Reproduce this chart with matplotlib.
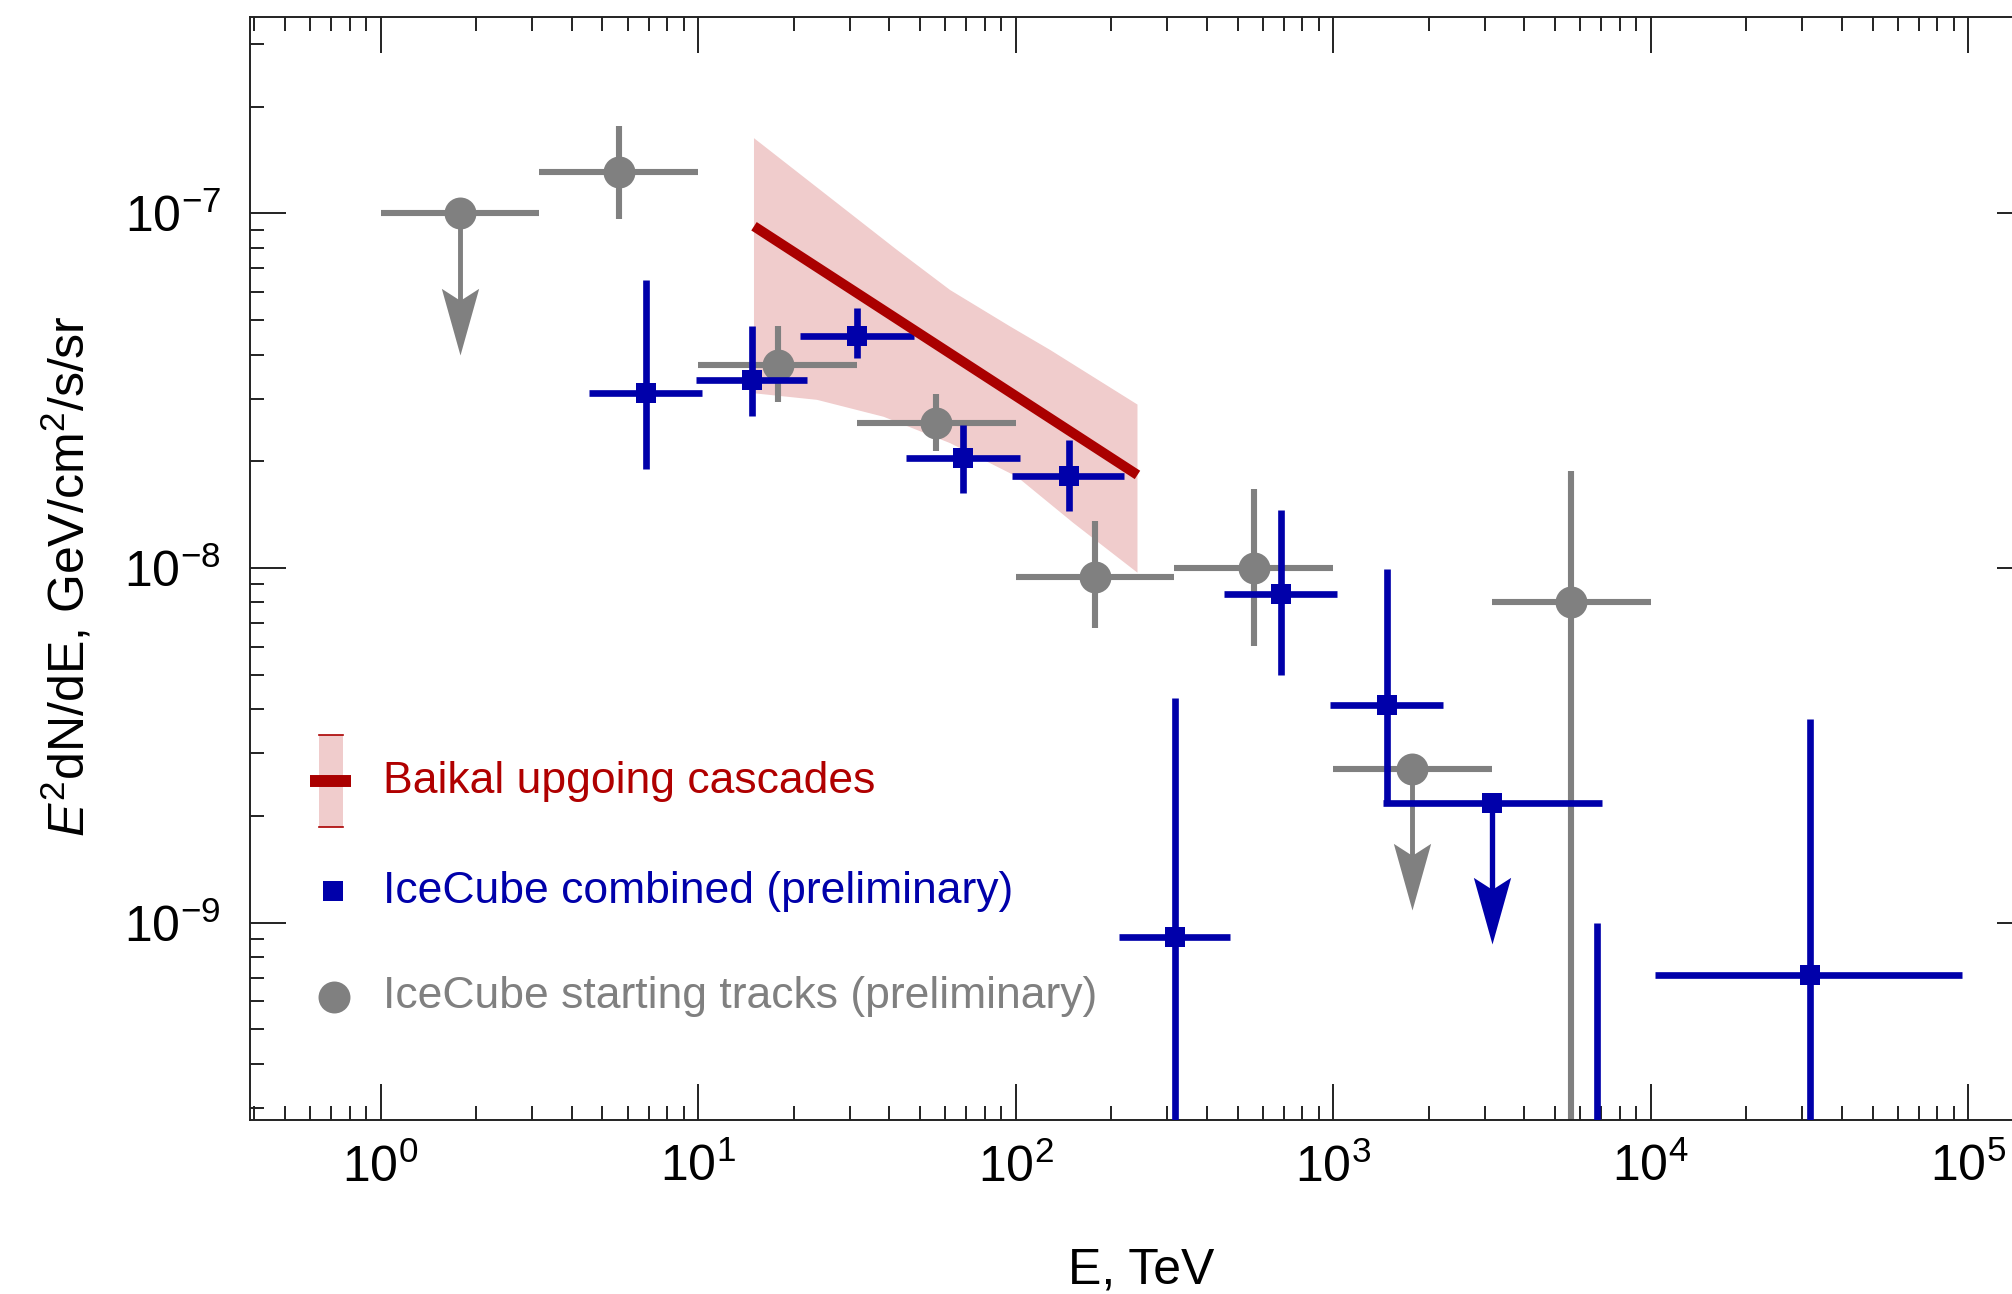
import matplotlib
matplotlib.use('Agg')
import matplotlib.pyplot as plt
from matplotlib.patches import Rectangle
from matplotlib.path import Path
from matplotlib.ticker import FixedLocator, LogLocator, LogFormatterMathtext, NullFormatter
import numpy as np

plt.rcParams['font.family'] = ['Liberation Sans', 'DejaVu Sans']
plt.rcParams['mathtext.fontset'] = 'custom'
plt.rcParams['mathtext.rm'] = 'Liberation Sans'
plt.rcParams['mathtext.it'] = 'Liberation Sans:italic'
plt.rcParams['mathtext.bf'] = 'Liberation Sans:bold'

BLUE = '#0000AA'
GREY = '#808080'
RED = '#AA0000'
PINK = '#F0CCCC'

# IceCube starting tracks (E in TeV, flux in GeV/cm2/s/sr)
track_E = [1.78, 5.62, 17.8, 56.2, 178, 562, 1778, 5623]
track_Elo = [1.0, 3.16, 10.0, 31.6, 100, 316, 1000, 3162]
track_Ehi = [3.16, 10.0, 31.6, 100, 316, 1000, 3162, 10000]
track_F = [1.0e-7, 1.31e-7, 3.74e-8, 2.57e-8, 9.45e-9, 9.98e-9, 2.72e-9, 8.04e-9]
track_Flo = [1.0e-7, 9.65e-8, 2.93e-8, 2.14e-8, 6.79e-9, 6.04e-9, 2.72e-9, 1.0e-10]
track_Fhi = [1.0e-7, 1.76e-7, 4.82e-8, 3.09e-8, 1.36e-8, 1.67e-8, 2.72e-9, 1.88e-8]
track_ul = [True, False, False, False, False, False, True, False]

# IceCube combined
comb_E = [6.84, 14.8, 31.7, 68.2, 147.7, 318, 684.6, 1476, 3176, 6800, 31860]
comb_Elo = [4.55, 9.84, 20.9, 45.2, 97.3, 211, 454, 979, 1440, 6800, 10350]
comb_Ehi = [10.3, 22.1, 48.0, 103, 220, 474, 1027, 2215, 7020, 6800, 95700]
comb_F = [3.11e-8, 3.39e-8, 4.51e-8, 2.04e-8, 1.82e-8, 9.08e-10, 8.45e-9,
          4.11e-9, 2.17e-9, 1.5e-10, 7.12e-10]
comb_Flo = [1.90e-8, 2.69e-8, 3.90e-8, 1.63e-8, 1.45e-8, 1.0e-11, 4.99e-9,
            2.17e-9, 2.17e-9, 1.0e-11, 1.0e-11]
comb_Fhi = [6.49e-8, 4.82e-8, 5.40e-8, 2.53e-8, 2.29e-8, 4.30e-9, 1.46e-8,
            9.94e-9, 2.17e-9, 1.0e-9, 3.75e-9]
comb_ul = [False, False, False, False, False, False, False, False, True, False, False]

# Baikal upgoing cascades: best fit and its band
baikal_E = [15.0, 242]
baikal_F = [9.2e-8, 1.83e-8]
band_up_E = [15.0, 42.3, 62.2, 96.1, 128.5, 242]
band_up_F = [1.63e-7, 7.89e-8, 6.08e-8, 4.80e-8, 4.12e-8, 2.89e-8]
band_lo_E = [15.0, 23.7, 38.4, 62.2, 100.9, 152, 242]
band_lo_F = [3.11e-8, 2.98e-8, 2.67e-8, 2.25e-8, 1.81e-8, 1.34e-8, 9.7e-9]

x_ticks = [1, 10, 100, 1e3, 1e4, 1e5]
y_ticks = [1e-9, 1e-8, 1e-7]

UL_DROP = 0.4      # arrow tip sits this factor below the limit
UL_SHAFT = 0.55    # shaft stops inside the head

# swept-back arrow head, tip at the marker origin
HEAD = Path([(0, 0), (0.28, 1.0), (0, 0.82), (-0.28, 1.0), (0, 0)],
            [Path.MOVETO, Path.LINETO, Path.LINETO, Path.LINETO, Path.CLOSEPOLY])

W, H = 2012, 1294
fig = plt.figure(figsize=(W / 100, H / 100), dpi=100)
ax = fig.add_axes([250 / W, (H - 1120.3) / H, (2033 - 250) / W, (1120.3 - 17) / H])
ax.set_xscale('log')
ax.set_yscale('log')
ax.set_xlim(0.388, 1.6e5)
ax.set_ylim(2.77e-10, 3.58e-7)

# band first, data on top, fit line last
ax.fill(band_up_E + band_lo_E[::-1], band_up_F + band_lo_F[::-1],
        color=PINK, lw=0, zorder=1)


def draw_points(E, Elo, Ehi, F, Flo, Fhi, ul, color, lw, marker, ms, z):
    ax.hlines(F, Elo, Ehi, colors=color, lw=lw, capstyle='butt', zorder=z)
    ax.vlines(E, Flo, Fhi, colors=color, lw=lw, capstyle='butt', zorder=z)
    ax.plot(E, F, ls='none', marker=marker, ms=ms, color=color, mew=0, zorder=z + 0.1)
    e_ul = np.array([e for e, u in zip(E, ul) if u])
    f_ul = np.array([f for f, u in zip(F, ul) if u])
    if len(e_ul):
        ax.vlines(e_ul, f_ul * UL_SHAFT, f_ul, colors=color, lw=lw * 0.8,
                  capstyle='butt', zorder=z)
        ax.plot(e_ul, f_ul * UL_DROP, ls='none', marker=HEAD, ms=96, mew=0,
                color=color, zorder=z + 0.1)


draw_points(track_E, track_Elo, track_Ehi, track_F, track_Flo, track_Fhi, track_ul,
            GREY, 4.4, 'o', 23, 2)
draw_points(comb_E, comb_Elo, comb_Ehi, comb_F, comb_Flo, comb_Fhi, comb_ul,
            BLUE, 4.8, 's', 14.4, 3)

ax.plot(baikal_E, baikal_F, color=RED, lw=7.2, solid_capstyle='butt', zorder=5)

# axes frame and ticks
for sp in ax.spines.values():
    sp.set_linewidth(1.4)
    sp.set_color('#222222')
ax.xaxis.set_major_locator(FixedLocator(x_ticks))
ax.yaxis.set_major_locator(FixedLocator(y_ticks))
ax.xaxis.set_minor_locator(LogLocator(base=10, subs=np.arange(2, 10), numticks=20))
ax.yaxis.set_minor_locator(LogLocator(base=10, subs=np.arange(2, 10), numticks=20))
ax.xaxis.set_major_formatter(LogFormatterMathtext())
ax.yaxis.set_major_formatter(LogFormatterMathtext())
ax.xaxis.set_minor_formatter(NullFormatter())
ax.yaxis.set_minor_formatter(NullFormatter())
ax.tick_params(which='both', direction='in', top=True, right=True, color='#222222')
ax.tick_params(which='major', length=26, width=1.4, labelsize=36)
ax.tick_params(which='minor', length=10, width=1.4)
ax.tick_params(axis='x', which='major', pad=17)
ax.tick_params(axis='y', which='major', pad=21)

ax.set_xlabel('E, TeV', fontsize=36)
ax.set_ylabel(r'$E^2$dN/dE, GeV/cm$^2$/s/sr', fontsize=36)
ax.xaxis.set_label_coords(0.5, -0.115)
ax.yaxis.set_label_coords(-0.087, 0.493)

# hand-made legend in the lower left corner
tr = ax.transAxes
ax.add_patch(Rectangle((0.0387, 0.2658), 0.0136, 0.0834, transform=tr,
                       facecolor=PINK, lw=0, zorder=6))
ax.plot([0.0387, 0.0523], [0.2658, 0.2658], transform=tr, color=RED, lw=1.2, zorder=6)
ax.plot([0.0387, 0.0523], [0.3492, 0.3492], transform=tr, color=RED, lw=1.2, zorder=6)
ax.plot([0.0337, 0.0566], [0.3075, 0.3075], transform=tr, color=RED, lw=8.6,
        solid_capstyle='butt', zorder=7)
ax.plot([0.0466], [0.2078], transform=tr, marker='s', ms=14.4, color=BLUE, mew=0,
        zorder=7, clip_on=False)
ax.plot([0.0469], [0.1121], transform=tr, marker='o', ms=23, color=GREY, mew=0,
        zorder=7, clip_on=False)

legend_rows = [('Baikal upgoing cascades', '#B00000', 0.3075),
               ('IceCube combined (preliminary)', BLUE, 0.2078),
               ('IceCube starting tracks (preliminary)', GREY, 0.1121)]
for label, col, yy in legend_rows:
    ax.text(0.0746, yy, label, transform=tr, color=col, fontsize=32,
            ha='left', va='center', zorder=7)

fig.savefig('out.png', dpi=100)
